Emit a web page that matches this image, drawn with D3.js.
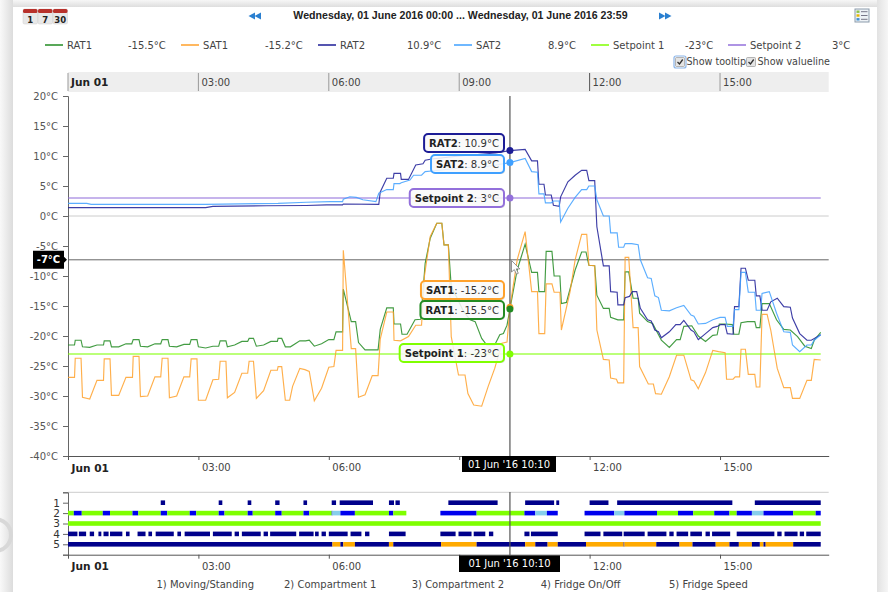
<!DOCTYPE html>
<html>
<head>
<meta charset="utf-8">
<script src="https://cdnjs.cloudflare.com/ajax/libs/d3/7.8.5/d3.min.js"></script>
<style>
  html, body { margin: 0; padding: 0; background: #fff; overflow: hidden; }
  svg { display: block; }
  text { font-family: "DejaVu Sans", sans-serif; font-size: 10px; fill: #444; }
</style>
</head>
<body>
<svg id="chart" width="888" height="592"></svg>
<script>
 // all series are [minutes after midnight, degrees C]
 const rat1 = [[0,-21.5],[9,-21.5],[10,-20.7],[18,-20.7],[20,-21.8],[30,-21.9],[40,-21.5],[49,-21.5],[50,-20.8],[58,-20.8],[60,-21.8],[70,-21.8],[80,-21.3],[88,-21.3],[90,-20.6],[98,-20.6],[100,-21.7],[110,-21.8],[120,-21.3],[128,-21.3],[130,-20.6],[138,-20.6],[140,-21.7],[150,-21.8],[160,-21.4],[168,-21.4],[170,-20.6],[178,-20.6],[180,-21.8],[190,-22],[200,-21.7],[208,-21.7],[210,-20.8],[218,-20.8],[220,-21.8],[230,-21.5],[240,-20.9],[248,-20.9],[250,-20.4],[256,-20.4],[260,-21.7],[270,-21.5],[280,-20.9],[289,-20.9],[290,-20.4],[295,-20.4],[300,-21.8],[307,-21.8],[320,-20.8],[328,-20.8],[333,-20.7],[340,-21.7],[350,-21.3],[360,-20.6],[367,-20.6],[370,-19.3],[379,-19.3],[380.5,-12.2],[391,-17.6],[397,-17.6],[401,-21.1],[410,-22.3],[428,-22.3],[431,-18.9],[440,-15.3],[449,-15.3],[450,-18],[459,-18],[461,-19.7],[468,-19.7],[479,-17.3],[487,-17.2],[493,-7.9],[500,-3.7],[509,-1.2],[516,-1.2],[519,-4.8],[525,-4.8],[529,-11.8],[536,-13.4],[546,-15.9],[555,-17.3],[562,-17.6],[571,-20.4],[578,-21.5],[589,-21.5],[596,-19.8],[601,-19.6],[606,-18.2],[610,-15.5],[620,-9],[631,-4.7],[640,-9.4],[648,-9.4],[650,-12.6],[658,-12.6],[660,-5.9],[668,-5.9],[671,-10],[679,-10],[681,-14.6],[688,-14.4],[700,-9],[709,-6],[715,-6],[719,-8.2],[727,-8.3],[730,-13.2],[739,-15.4],[747,-15.4],[749,-16.9],[759,-17.3],[767,-17.3],[769,-9.3],[774,-9.3],[780,-13.7],[787,-13.7],[789,-16.2],[800,-17.6],[807,-17.9],[819,-20.7],[830,-21.9],[840,-20.6],[845,-20.6],[850,-18.4],[861,-18.3],[870,-20],[880,-20.9],[890,-19.9],[896,-19.8],[899,-18],[907,-18],[917,-18.1],[919,-19.7],[926,-19.7],[929,-17.8],[938,-17.6],[948,-17.6],[950,-18.6],[955,-18.6],[958,-14.6],[968,-14.6],[978,-17.3],[988,-18.9],[997,-19],[1007,-20.1],[1017,-21.7],[1026,-22.1],[1030,-20.7],[1039,-19.4]];
 const sat1 = [[0,-26.9],[9,-26.9],[10,-23.7],[18,-23.7],[20,-30.2],[30,-30.5],[40,-27.4],[49,-27.4],[50,-23.8],[58,-23.8],[60,-29.9],[70,-29.9],[80,-26.9],[89,-26.9],[90,-23.4],[98,-23.4],[100,-30.1],[110,-30],[120,-26.8],[128,-26.8],[130,-23.7],[138,-23.7],[140,-30.3],[150,-30],[160,-26.8],[168,-26.8],[170,-23.8],[178,-23.8],[180,-30.7],[190,-30.7],[200,-27.3],[208,-27.2],[210,-24.2],[218,-24.2],[220,-30.3],[230,-29.4],[240,-26.2],[248,-26.2],[250,-24.2],[256,-24.2],[260,-30.4],[270,-29.1],[280,-25.7],[289,-25.7],[290,-25.1],[295,-25.1],[300,-30.7],[306,-30.7],[310,-28.4],[320,-25.4],[327,-25.6],[333,-25.9],[340,-30.8],[350,-28.7],[360,-25.2],[367,-25.1],[370,-22.4],[379,-22.4],[380.5,-5.7],[391,-22.1],[397,-22.1],[401,-30.2],[410,-29.8],[420,-26.6],[428,-26.6],[431,-20.5],[440,-16],[449,-16],[450,-20.7],[459,-20.8],[470,-20.1],[480,-18.2],[488,-18.2],[492,-10],[500,-3.4],[509,-1.2],[516,-1.2],[519,-4.8],[525,-4.8],[529,-20.1],[539,-26.5],[548,-26.5],[552,-29.6],[560,-31.5],[571,-31.7],[580,-28.4],[589,-25.4],[599,-21.2],[606,-21],[610,-15.2],[620,-7.3],[631,-2.6],[640,-12.6],[648,-12.6],[650,-19.6],[658,-19.6],[660,-11.3],[668,-11.3],[671,-12.7],[679,-12.7],[681,-19],[693,-12.6],[700,-7.3],[709,-3.05],[716,-3.05],[719,-8.2],[727,-8.3],[730,-19],[739,-23.9],[747,-24],[749,-27],[757,-27.2],[759,-27.8],[767,-27.8],[769,-6.9],[774,-6.9],[780,-18.6],[787,-18.6],[789,-25.1],[801,-28],[808,-28],[811,-29.6],[819,-29.7],[830,-26.8],[840,-23.2],[850,-23.2],[860,-27.3],[864,-27.5],[870,-28.8],[880,-26.1],[890,-22.4],[898,-22.6],[907,-22.8],[909,-27.2],[918,-27.2],[921,-26.8],[927,-26.8],[929,-22.2],[935,-22.2],[939,-26.4],[948,-26.4],[950,-28.5],[955,-28.5],[958,-16.4],[965,-16.4],[970,-19],[979,-25.4],[988,-28.6],[997,-28.6],[1000,-30.4],[1010,-30.4],[1020,-27.4],[1026,-27.4],[1030,-23.9],[1039,-24]];
 const rat2 = [[0,1.4],[190,1.4],[200,1.6],[274,1.7],[329,1.75],[357,1.85],[379,1.85],[380,2],[429,1.95],[431,4],[440,6.3],[449,6.3],[450,7.1],[459,7.1],[460,6.1],[470,6.1],[480,8.5],[490,8.7],[493,9.3],[502,9.5],[540,10],[590,10.5],[610,10.9],[631,11.1],[640,9.2],[648,9.2],[650,5.3],[657,5.3],[659,3.5],[667,3.5],[670,1.8],[678,1.6],[680,3.2],[690,5.7],[700,6.8],[709,7.6],[716,7.6],[719,5.9],[727,5.9],[730,-1.8],[739,-8.3],[747,-8.3],[749,-12.6],[758,-12.7],[759,-14.8],[767,-14.8],[769,-13.6],[775,-13.4],[779,-12.6],[785,-12.6],[790,-15.4],[800,-17.3],[805,-17.5],[810,-19],[815,-19.3],[819,-20.3],[830,-19.3],[839,-18.1],[845,-18.1],[850,-17.4],[860,-19],[864,-19.3],[870,-20.6],[880,-19.6],[890,-18.6],[896,-18.4],[901,-18.1],[907,-18.1],[910,-19.6],[918,-19.7],[920,-15.1],[926,-15.1],[929,-8.7],[935,-8.7],[939,-10.7],[948,-10.7],[950,-13.3],[955,-13.3],[958,-15.7],[965,-15.7],[970,-14.3],[979,-13.7],[988,-15.1],[997,-15.2],[1000,-17],[1010,-19.6],[1020,-20.7],[1026,-20.7],[1039,-19.8]];
 const sat2 = [[0,2.1],[26,2.1],[32,1.95],[190,1.95],[290,2.1],[329,2.3],[362,2.4],[379,2.4],[380,2.8],[389,3.2],[398,3.1],[407,2.7],[425,2.4],[429,3.8],[440,4.4],[449,4.4],[450,5.4],[458,5.4],[460,5.55],[472,6],[477,6.8],[488,6.8],[493,7.4],[502,7.5],[540,8],[580,8.3],[610,8.9],[631,9.6],[640,7.4],[648,7.3],[650,3.7],[657,3.7],[659,2.2],[667,2.2],[670,2.5],[678,2.5],[680,-1],[690,1.3],[700,3.1],[709,4.4],[716,4.4],[719,5],[727,5],[730,2.7],[739,0],[747,0],[749,-2.8],[758,-2.8],[760,-5.2],[767,-5.2],[769,-4.6],[778,-4.6],[787,-4.8],[790,-7.3],[800,-10.3],[805,-10.4],[810,-13.3],[815,-13.6],[819,-15.7],[830,-15.8],[840,-15.3],[850,-14.9],[860,-16.5],[864,-16.7],[870,-18],[880,-17.9],[890,-17.3],[900,-16.9],[907,-16.9],[910,-18.4],[918,-18.4],[920,-15.6],[926,-15.6],[929,-9.4],[935,-9.4],[939,-12.7],[948,-12.7],[950,-15.7],[956,-15.7],[958,-12.9],[968,-12.6],[978,-16.2],[988,-19.3],[997,-19.4],[1000,-21.5],[1010,-22.6],[1020,-21.5],[1026,-21.5],[1030,-20.7],[1039,-19.8]];
 const setpoint1 = [[0,-23],[1039,-23]];
 const setpoint2 = [[0,3],[1039,3]];

 const seriesNames = ["RAT1","SAT1","RAT2","SAT2","Setpoint 1","Setpoint 2"];
 const seriesColors = ["#228b22","#ffa12b","#1c1c96","#3fa0ff","#7fff00","#9370db"];
 const currentValues = [-15.5,-15.2,10.9,8.9,-23,3];

 // status lanes, [from minute, to minute, state]
 const laneMoving = [[128,134,"a"],[208,213.5,"a"],[248,253.5,"a"],[286.6,292,"a"],[325.7,330.3,"a"],[364.4,370,"a"],[375.4,421.4,"a"],[443,450.4,"a"],[452.7,458.2,"a"],[525.8,593.4,"a"],[631,671.6,"a"],[674,678.5,"a"],[720,746.6,"a"],[758,917.7,"a"],[948,1039.6,"a"]];
 const laneComp1 = [[0,8.8,"g"],[8.8,19.4,"b"],[19.4,48.8,"g"],[48.8,58.9,"b"],[58.9,89.7,"g"],[89.7,97.1,"b"],[97.1,128.4,"g"],[128.4,137.1,"b"],[137.1,168,"g"],[168,177.1,"b"],[177.1,208,"g"],[208,216.7,"b"],[216.7,248,"g"],[248,255.8,"b"],[255.8,286.6,"g"],[286.6,295.4,"b"],[295.4,325.7,"g"],[325.7,333.1,"b"],[333.1,364.4,"g"],[364.4,365.7,"b"],[365.7,376.8,"l"],[376.8,396.6,"b"],[396.6,443,"g"],[443,449.5,"b"],[449.5,467.4,"g"],[514.3,564.4,"b"],[564.4,630.2,"g"],[630.2,645,"b"],[645,661.5,"l"],[661.5,676.2,"b"],[713.5,754.4,"b"],[754.4,768.2,"l"],[768.2,813.3,"b"],[813.3,842.3,"g"],[842.3,863,"b"],[863,892,"g"],[892,913.6,"b"],[913.6,923.2,"g"],[923.2,944.4,"b"],[944.4,960.5,"l"],[960.5,1001.4,"b"],[1001.4,1032.7,"g"],[1032.7,1039.6,"b"]];
 const laneComp2 = [[0,1039.6,"g"]];
 const laneFridge = [[0,13.4,"a"],[15.2,25.8,"a"],[30.4,36.4,"a"],[42.8,46.5,"a"],[49.7,56.2,"a"],[58.9,75.5,"a"],[80.1,85.6,"a"],[96.2,107.7,"a"],[111.4,116.9,"a"],[121,146.8,"a"],[151.4,156.9,"a"],[161,196.5,"a"],[200.6,226.8,"a"],[230,236.5,"a"],[240.2,266.4,"a"],[270.5,276,"a"],[279.7,315.6,"a"],[319.7,339.5,"a"],[341.4,346.9,"a"],[350.6,356.1,"a"],[360.7,386.9,"a"],[390.6,405.8,"a"],[410.4,416.3,"a"],[443,466,"a"],[514.3,535.9,"a"],[539.6,557.5,"a"],[560.8,576.4,"a"],[581,587,"a"],[630.2,637.6,"a"],[639.9,676.2,"a"],[713.5,735.1,"a"],[739.7,765.9,"a"],[767.8,796.7,"a"],[800.4,826.6,"a"],[830.3,836.3,"a"],[840,856.1,"a"],[859.8,875.9,"a"],[880,886,"a"],[889.7,914.5,"a"],[923.2,975.7,"a"],[979.4,985.3,"a"],[989.5,1007.9,"a"],[1010.2,1016.2,"a"],[1019.8,1039.6,"a"]];
 const laneSpeed = [[0,365.7,"a"],[365.7,376.3,"o"],[376.3,380,"a"],[380,396.6,"o"],[396.6,443.5,"a"],[443.5,449.5,"o"],[449.5,515.7,"a"],[515.7,564.4,"o"],[564.4,631.1,"a"],[631.1,645,"o"],[645,662,"a"],[662,676.2,"o"],[676.2,715.8,"a"],[715.8,767.3,"o"],[767.3,768.7,"a"],[768.7,812.8,"o"],[812.8,844.6,"a"],[844.6,862.5,"o"],[862.5,894.7,"a"],[894.7,913.6,"o"],[913.6,926,"a"],[926,944.4,"o"],[944.4,955,"a"],[955,960.5,"o"],[960.5,963.3,"a"],[963.3,1001.4,"o"],[1001.4,1039.6,"a"]];
 const laneNames = ["1) Moving/Standing","2) Compartment 1","3) Compartment 2","4) Fridge On/Off","5) Fridge Speed"];
 const stateColors = {a:"#00008b",b:"#0000ee",g:"#7fff00",l:"#87ceeb",o:"#ffaa00"};

 const yTicks = [-40,-35,-30,-25,-20,-15,-10,-5,0,5,10,15,20];
 const hourTicks = [0,3,6,9,12,15];
 const cursorMinute = 610;
 const cursorValue = -7.3;

 let svg = d3.select("svg#chart");

 const toDate = m => new Date(Date.UTC(2016,5,1,0,m));
 const xScale = d3.scaleUtc().domain([toDate(0),toDate(1050)]).range([68,828.7]);
 const yScale = d3.scaleLinear().domain([-40,20]).range([456,96]);
 const laneScale = d3.scaleLinear().domain([0,6]).range([492.3,554.7]);
 const hourDates = hourTicks.map(h => toDate(h*60));
 const hourFormat = d => d.getTime()===toDate(0).getTime() ? "Jun 01" : d3.utcFormat("%H:%M")(d);

 // page frame, the screenshot has the edge of a dialog in it
 let defs = svg.append("defs");
 function shade(id,x2,y2,from,to){
     let grad = defs.append("linearGradient").attr("id",id).attr("x1",0).attr("y1",0).attr("x2",x2).attr("y2",y2);
     grad.append("stop").attr("offset",0).attr("stop-color",from);
     grad.append("stop").attr("offset",1).attr("stop-color",to);
 }
 shade("shadeLeft",1,0,"#f9f9f9","#dcdcdc");
 shade("shadeTop",0,1,"#f6f6f6","#dedede");
 shade("shadeRight",1,0,"#e2e2e2","#f6f6f6");
 svg.append("rect").attr("width",888).attr("height",592).attr("fill","#f6f6f6");
 svg.append("rect").attr("width",13).attr("height",592).attr("fill","url(#shadeLeft)");
 svg.append("circle").attr("cx",-5).attr("cy",535).attr("r",16).attr("fill","none").attr("stroke","#d8d8d8").attr("stroke-width",4);
 svg.append("rect").attr("x",13).attr("width",864).attr("height",7).attr("fill","url(#shadeTop)");
 svg.append("rect").attr("x",877).attr("width",11).attr("height",592).attr("fill","url(#shadeRight)");
 svg.append("rect").attr("x",13).attr("y",7).attr("width",864).attr("height",585).attr("fill","#fff");

 // header
 svg.append("text").attr("x",460.5).attr("y",19).attr("text-anchor","middle")
     .style("font-family","'Liberation Sans'").style("font-size","10.6px").style("font-weight","bold").style("fill","#222")
     .text("Wednesday, 01 June 2016 00:00 ... Wednesday, 01 June 2016 23:59");
 [[261,-1],[659,1]].forEach(([x,dir]) => {
     [0,6].forEach(off => {
         svg.append("path").attr("fill","#2a7fd0")
             .attr("d",`M${x+dir*off} 16l0 -3.5l${dir*6.5} 3.5l${-dir*6.5} 3.5z`);
     });
 });
 // calendar buttons
 ["1","7","30"].forEach((t,i) => {
     let g = svg.append("g").attr("transform",`translate(${23+i*15},9)`);
     g.append("rect").attr("width",14.5).attr("height",15).attr("rx",1.5).attr("fill","#e8e8e8").attr("stroke","#cfcfcf").attr("stroke-width",.5);
     g.append("rect").attr("width",14.5).attr("height",4).attr("rx",1.5).attr("fill","#b8312b");
     g.append("text").attr("x",7.2).attr("y",13.5).attr("text-anchor","middle").style("font-size","8.5px").style("font-weight","bold").style("fill","#222").text(t);
 });
 // table icon
 let tableIcon = svg.append("g").attr("transform","translate(855,9)");
 tableIcon.append("rect").attr("width",14).attr("height",13).attr("fill","#eef2f6").attr("stroke","#8b9bab");
 ["#8bc34a","#e6b800","#3f8fd2"].forEach((c,i) => {
     tableIcon.append("rect").attr("x",1.5).attr("y",1.5+i*3.8).attr("width",3).attr("height",2.4).attr("fill",c);
     tableIcon.append("line").attr("x1",6).attr("x2",12.5).attr("y1",2.7+i*3.8).attr("y2",2.7+i*3.8).attr("stroke","#778");
 });

 // legend
 const legendLineX = [45,181,318,454,591,728];
 const legendValueX = [128,265,407,548,685,832];
 seriesNames.forEach((name,i) => {
     svg.append("line").attr("x1",legendLineX[i]).attr("x2",legendLineX[i]+18).attr("y1",45).attr("y2",45)
         .attr("stroke",seriesColors[i]).attr("stroke-width",1.5);
     svg.append("text").attr("x",legendLineX[i]+22).attr("y",49).text(name);
     svg.append("text").attr("x",legendValueX[i]).attr("y",49).text(currentValues[i]+"°C");
 });

 // checkboxes
 [[675,"Show tooltip",true],[746,"Show valueline",false]].forEach(([x,label,focus]) => {
     if(focus) svg.append("rect").attr("x",x-1).attr("y",56).attr("width",12).attr("height",12).attr("rx",2).attr("fill","none").attr("stroke","#8ab4e8").attr("stroke-width",1.2);
     svg.append("rect").attr("x",x+.5).attr("y",57.5).attr("width",9).attr("height",9).attr("rx",1).attr("fill","#e4e4e4").attr("stroke","#999").attr("stroke-width",.7);
     svg.append("path").attr("d",`M${x+2.5} 62l2 2l3.2 -4.5`).attr("fill","none").attr("stroke","#333").attr("stroke-width",1.3);
     svg.append("text").attr("x",x+11.5).attr("y",65).style("font-size","9.6px").text(label);
 });

 // top time band
 svg.append("rect").attr("x",68).attr("y",72).attr("width",760.7).attr("height",20).attr("fill","#eeeeee");
 let topAxis = svg.append("g").selectAll("g").data(hourDates).join("g").attr("transform",d=>`translate(${xScale(d)},0)`);
 topAxis.append("line").attr("y1",73).attr("y2",91).attr("stroke",(d,i)=>i==4?"#555":"#999").attr("stroke-width",1);
 topAxis.append("text").attr("x",3).attr("y",86).style("font-weight",(d,i)=>i==0?"bold":"normal").style("fill",(d,i)=>i==0?"#222":"#444")
     .style("font-size",(d,i)=>i==0?"10.6px":"10px").text(hourFormat);

 // zero line
 svg.append("line").attr("x1",68).attr("x2",828.7).attr("y1",yScale(0)).attr("y2",yScale(0)).attr("stroke","#ccc").attr("stroke-width",1);

 // axes
 let leftAxis = d3.axisLeft(yScale).tickValues(yTicks).tickFormat(d=>d+"°C").tickSize(5).tickPadding(5).tickSizeOuter(5);
 let leftG = svg.append("g").attr("transform","translate(68,0)").call(leftAxis);
 leftG.selectAll("path,line").attr("stroke","#666");
 leftG.selectAll("text").style("font-family","'DejaVu Sans'").style("font-size","10px").style("fill","#555");

 // the 09:00 label sits under the date flag, so it is left out at the bottom axes
 function drawBottomAxis(y){
     let axis = d3.axisBottom(xScale).tickValues(hourDates).tickFormat((d,i)=>i==3?"":hourFormat(d)).tickSize(4).tickSizeOuter(0);
     let g = svg.append("g").attr("transform",`translate(0,${y})`).call(axis);
     g.selectAll("path,line").attr("stroke","#555");
     g.selectAll("text").attr("text-anchor","start").attr("x",3).attr("y",8)
         .style("font-family","'DejaVu Sans'")
         .style("font-size",(d,i)=>i==0?"10.6px":"10px")
         .style("font-weight",(d,i)=>i==0?"bold":"normal").style("fill",(d,i)=>i==0?"#222":"#444");
 }
 drawBottomAxis(456);

 // crosshair behind the series
 svg.append("line").attr("x1",68).attr("x2",828.7).attr("y1",yScale(cursorValue)).attr("y2",yScale(cursorValue)).attr("stroke","#666").attr("stroke-width",1);

 // series
 const lineGen = d3.line().x(d=>xScale(toDate(d[0]))).y(d=>yScale(d[1]));
 const allSeries = [setpoint1,setpoint2,rat1,sat1,rat2,sat2];
 const seriesOrder = [4,5,0,1,2,3];
 allSeries.forEach((data,i) => {
     svg.append("path").datum(data).attr("fill","none").attr("d",lineGen)
         .attr("stroke",seriesColors[seriesOrder[i]]).attr("stroke-width",seriesOrder[i]>=4?1.3:1.15)
         .attr("stroke-opacity",seriesOrder[i]>=4?.7:.85);
 });

 // vertical cursor, runs through both plots
 svg.append("line").attr("x1",xScale(toDate(cursorMinute))).attr("x2",xScale(toDate(cursorMinute))).attr("y1",96).attr("y2",456).attr("stroke","#555").attr("stroke-width",1.2);

 // tooltip dots and labels
 const tooltipTop = [301,281,134,155,344,189];
 const tooltipRight = 504;
 [1,0,2,3,4,5].forEach(i => {
     svg.append("circle").attr("cx",xScale(toDate(cursorMinute))).attr("cy",yScale(currentValues[i])).attr("r",3.5)
         .attr("fill",seriesColors[i]);
 });
 [2,3,5,1,0,4].forEach(i => {
     let g = svg.append("g");
     let t = g.append("text").attr("y",tooltipTop[i]+13).style("font-size","10.1px").style("fill","#333");
     t.append("tspan").style("font-weight","bold").style("fill","#222").text(seriesNames[i]);
     t.append("tspan").text(": "+currentValues[i]+"°C");
     let w = t.node().getComputedTextLength()+10;
     t.attr("x",tooltipRight-w+5);
     g.insert("rect","text").attr("x",tooltipRight-w+1).attr("y",tooltipTop[i]+1).attr("width",w).attr("height",18).attr("rx",4).attr("fill","#000").attr("opacity",.15);
     g.insert("rect","text").attr("x",tooltipRight-w).attr("y",tooltipTop[i]).attr("width",w).attr("height",18).attr("rx",4)
         .attr("fill","#fff").attr("fill-opacity",.85).attr("stroke",seriesColors[i]).attr("stroke-width",2);
 });

 // value flag on the left axis
 svg.append("path").attr("fill","#000").attr("d",`M33 ${yScale(cursorValue)-9}h31v6l3 3l-3 3v6h-31z`);
 svg.append("text").attr("x",48.5).attr("y",yScale(cursorValue)+3.5).attr("text-anchor","middle").style("fill","#fff").style("font-size","10px").style("font-weight","bold").text(cursorValue.toFixed(0)+"°C");

 // mouse pointer
 svg.append("path").attr("d","M511.5 260.5v11.5l2.8 -2.4l2.2 4.6l1.8 -.9l-2.1 -4.4h3.6z").attr("fill","#fff").attr("stroke","#777").attr("stroke-width",.8);

 // lanes plot
 svg.append("line").attr("x1",68).attr("x2",828.7).attr("y1",laneScale(0)).attr("y2",laneScale(0)).attr("stroke","#ccc");
 let laneAxis = d3.axisLeft(laneScale).tickValues([0,1,2,3,4,5,6]).tickFormat(d=>(d>=1&&d<=5)?d:"").tickSize(5).tickSizeOuter(5);
 let laneG = svg.append("g").attr("transform","translate(68,0)").call(laneAxis);
 laneG.selectAll("path,line").attr("stroke","#666");
 laneG.selectAll("text").style("font-family","'DejaVu Sans'").style("font-size","10.5px").style("fill","#333");
 drawBottomAxis(554.7);

 [laneMoving,laneComp1,laneComp2,laneFridge,laneSpeed].forEach((lane,i) => {
     svg.append("g").selectAll("rect").data(lane).join("rect")
         .attr("x",d=>xScale(toDate(d[0])))
         .attr("width",d=>xScale(toDate(d[1]))-xScale(toDate(d[0])))
         .attr("y",laneScale(i+1)-2.3)
         .attr("height",4.6)
         .attr("fill",d=>stateColors[d[2]]);
 });
 svg.append("line").attr("x1",xScale(toDate(cursorMinute))).attr("x2",xScale(toDate(cursorMinute))).attr("y1",492).attr("y2",555).attr("stroke","#555").attr("stroke-width",1.2);

 // date flags
 [[462,456,94,16],[459,555.5,101,16.5]].forEach(([x,y,w,h]) => {
     svg.append("rect").attr("x",x).attr("y",y).attr("width",w).attr("height",h).attr("fill","#000");
     svg.append("text").attr("x",x+w/2).attr("y",y+h/2+3.5).attr("text-anchor","middle").style("fill","#fff").style("font-size","10px").text("01 Jun '16 10:10");
 });

 // lane names
 const laneNameX = [156.5,284,411.7,540.7,669];
 laneNames.forEach((name,i) => {
     svg.append("text").attr("x",laneNameX[i]).attr("y",588).text(name);
 });
</script>
</body>
</html>
